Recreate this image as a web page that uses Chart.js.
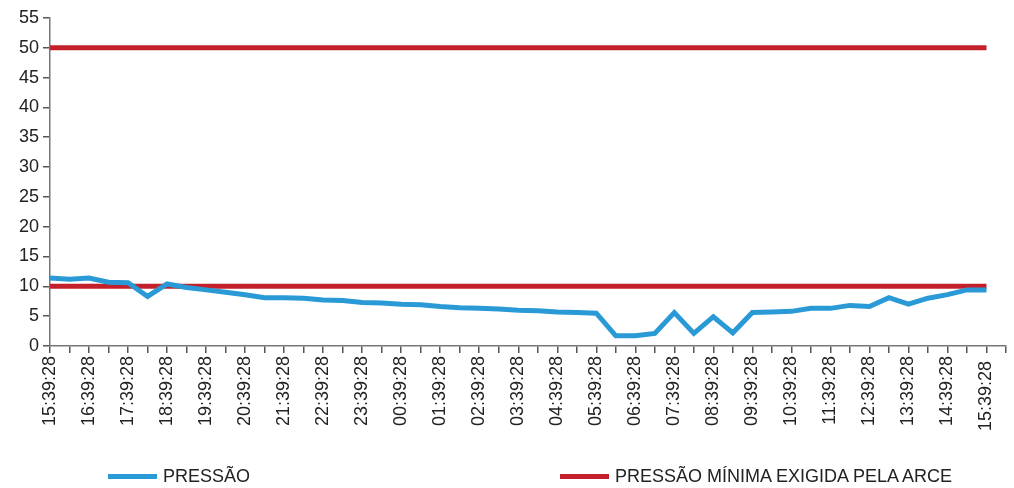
<!DOCTYPE html>
<html>
<head>
<meta charset="utf-8">
<script src="https://cdn.jsdelivr.net/npm/chart.js@4.4.1/dist/chart.umd.min.js"></script>
<style>
  html, body { margin: 0; padding: 0; background: #fff; }
  #wrap { position: relative; width: 1014px; height: 488px; }
  #legend { position: absolute; left: 0; top: 464px; width: 1014px; height: 24px;
            font-family: "Liberation Sans", Arial, sans-serif; font-size: 18px; color: #222; }
  .item { position: absolute; top: 0; display: flex; align-items: center; height: 24px; white-space: nowrap; }
  .swatch { width: 49px; height: 5px; margin-right: 6px; }
</style>
</head>
<body>
<div id="wrap">
  <canvas id="ctx" width="1014" height="488"></canvas>
  <div id="legend"></div>
</div>
<script>
// half-hourly readings, labels shown every hour
const times = [
  '15:39:28','16:09:28','16:39:28','17:09:28','17:39:28','18:09:28','18:39:28','19:09:28',
  '19:39:28','20:09:28','20:39:28','21:09:28','21:39:28','22:09:28','22:39:28','23:09:28',
  '23:39:28','00:09:28','00:39:28','01:09:28','01:39:28','02:09:28','02:39:28','03:09:28',
  '03:39:28','04:09:28','04:39:28','05:09:28','05:39:28','06:09:28','06:39:28','07:09:28',
  '07:39:28','08:09:28','08:39:28','09:09:28','09:39:28','10:09:28','10:39:28','11:09:28',
  '11:39:28','12:09:28','12:39:28','13:09:28','13:39:28','14:09:28','14:39:28','15:09:28',
  '15:39:28 ','16:09:28 '
];
const pressao = [
  11.4, 11.2, 11.4, 10.7, 10.6, 8.3, 10.4, 9.8, 9.4, 9.0,
  8.6, 8.1, 8.1, 8.0, 7.7, 7.6, 7.3, 7.2, 7.0, 6.9,
  6.6, 6.4, 6.3, 6.2, 6.0, 5.9, 5.7, 5.6, 5.5, 1.7,
  1.7, 2.1, 5.6, 2.1, 4.9, 2.2, 5.6, 5.7, 5.8, 6.3,
  6.3, 6.8, 6.6, 8.1, 7.0, 8.0, 8.6, 9.4, 9.4
];
const pressaoMinima = [
  10, 10, 10, 10, 10, 10, 10, 10, 10, 10,
  10, 10, 10, 10, 10, 10, 10, 10, 10, 10,
  10, 10, 10, 10, 10, 10, 10, 10, 10, 10,
  10, 10, 10, 10, 10, 10, 10, 10, 10, 10,
  10, 10, 10, 10, 10, 10, 10, 10, 10
];
const pressaoTopo = [
  50, 50, 50, 50, 50, 50, 50, 50, 50, 50,
  50, 50, 50, 50, 50, 50, 50, 50, 50, 50,
  50, 50, 50, 50, 50, 50, 50, 50, 50, 50,
  50, 50, 50, 50, 50, 50, 50, 50, 50, 50,
  50, 50, 50, 50, 50, 50, 50, 50, 50
];
const yTicks = [0, 5, 10, 15, 20, 25, 30, 35, 40, 45, 50, 55];

const azul = '#2a9ad6';
const vermelho = '#c4202b';
const font = { family: '"Liberation Sans", Arial, sans-serif' };

const chart = new Chart(document.getElementById('ctx'), {
  type: 'line',
  data: {
    labels: times,
    datasets: [
      { label: 'PRESSÃO', data: pressao, borderColor: azul, backgroundColor: azul,
        borderWidth: 5, pointRadius: 0, tension: 0 },
      { label: 'PRESSÃO MÍNIMA EXIGIDA PELA ARCE', data: pressaoMinima, borderColor: vermelho,
        backgroundColor: vermelho, borderWidth: 5, pointRadius: 0, tension: 0 },
      { label: '', data: pressaoTopo, borderColor: vermelho, backgroundColor: vermelho,
        borderWidth: 5, pointRadius: 0, tension: 0 }
    ]
  },
  options: {
    responsive: false,
    animation: false,
    layout: { padding: { top: 18, right: 0, bottom: 54, left: 15 } },
    plugins: { legend: { display: false }, tooltip: { enabled: false } },
    scales: {
      x: {
        offset: false,
        afterFit: (s) => { s.paddingRight = 8; },
        border: { color: '#777', width: 1.5 },
        grid: { drawOnChartArea: false, tickLength: 7, color: '#555', lineWidth: 1.5 },
        ticks: {
          autoSkip: false, maxRotation: 90, minRotation: 90, color: '#222',
          font: { ...font, size: 18 },
          callback: (v, i) => (i % 2 === 0 ? times[i] : '')
        }
      },
      y: {
        min: 0, max: 55,
        afterBuildTicks: (ax) => { ax.ticks = yTicks.map(v => ({ value: v })); },
        border: { color: '#777', width: 1.5 },
        grid: { drawOnChartArea: false, tickLength: 7, color: '#555', lineWidth: 1.5 },
        ticks: { color: '#222', font: { ...font, size: 18 }, padding: 4 }
      }
    }
  }
});

// legend: only the named series, laid out wide apart like the source
const lg = document.getElementById('legend');
const spots = [108, 560];
chart.data.datasets.filter(d => d.label).forEach((d, i) => {
  const el = document.createElement('div');
  el.className = 'item';
  el.style.left = spots[i] + 'px';
  el.innerHTML = '<span class="swatch" style="background:' + d.borderColor + '"></span>' + d.label;
  lg.appendChild(el);
});
</script>
</body>
</html>
